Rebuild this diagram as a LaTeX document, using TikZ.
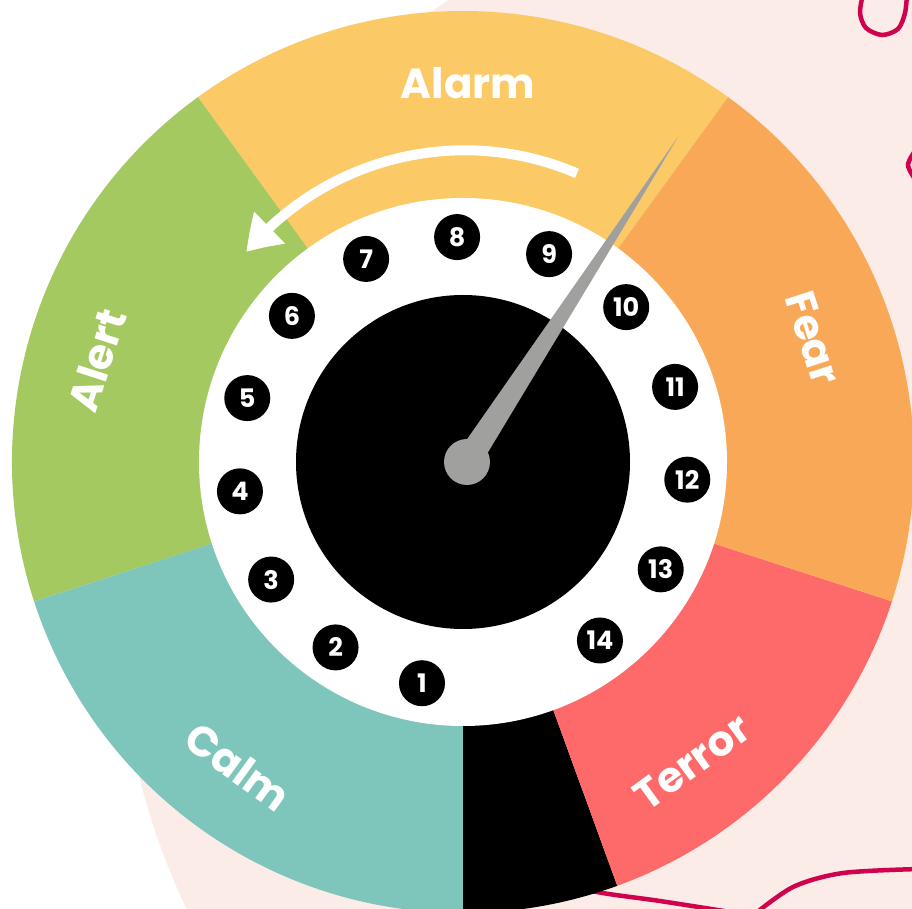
\documentclass[tikz,border=0pt]{standalone}
\usepackage{fontspec}
\setmainfont{Poppins}
\usetikzlibrary{arrows.meta,bending}
\definecolor{cyellow}{HTML}{FBC966}
\definecolor{corange}{HTML}{F9A857}
\definecolor{cgreen}{HTML}{A4C960}
\definecolor{cteal}{HTML}{7EC6BC}
\definecolor{cred}{HTML}{FE6A69}
\definecolor{cpink}{HTML}{FBECE8}
\definecolor{cgray}{HTML}{A0A09F}
\definecolor{ccrimson}{HTML}{D0024E}
\begin{document}
\begin{tikzpicture}[x=1pt,y=1pt,
  numdot/.style={circle, fill=black, minimum size=46pt, inner sep=0pt, text=white,
    font=\bfseries\fontsize{25.5}{25.5}\selectfont},
  lbl/.style={text=white, inner sep=0pt, font=\bfseries\fontsize{42}{42}\selectfont},
  squiggle/.style={draw=ccrimson, line width=4.5pt, line cap=round}]
\useasboundingbox (-463,-447) rectangle (449,462);
\begin{scope}
\clip (-463,-447) rectangle (449,462);
\fill[white] (-463,-447) rectangle (449,462);
\fill[cpink] (370,-141) circle[radius=715];
% squiggles
\draw[squiggle] plot[smooth] coordinates {(400,468) (397,449) (403,434) (419,427) (435,433) (442,449) (444,468)};
\draw[squiggle] plot[smooth] coordinates {(454,314) (445,297) (454,280)};
\draw[squiggle] plot[smooth] coordinates {(60,-410) (129,-429) (197,-439) (280,-452)};
\draw[squiggle] plot[smooth] coordinates {(288,-455) (330,-425) (380,-411) (456,-407)};
% wheel
\fill[cyellow] (0,0) -- (54:451) arc[start angle=54,end angle=126,radius=451] -- cycle;
\fill[cgreen] (0,0) -- (126:451) arc[start angle=126,end angle=198,radius=451] -- cycle;
\fill[cteal] (0,0) -- (198:451) arc[start angle=198,end angle=270,radius=451] -- cycle;
\fill[black] (0,0) -- (270:451) arc[start angle=270,end angle=290,radius=451] -- cycle;
\fill[cred] (0,0) -- (290:451) arc[start angle=290,end angle=342,radius=451] -- cycle;
\fill[corange] (0,0) -- (-18:451) arc[start angle=-18,end angle=54,radius=451] -- cycle;
\fill[white] (0,0) circle[radius=264];
\fill[black] (0,0) circle[radius=167];
\end{scope}
% numbers
\foreach \k in {1,...,14} {
  \pgfmathsetmacro\ang{91.5+(8-\k)*24}
  \node[numdot] (n\k) at (\ang:225) {\k};
}
% labels
\node[lbl] (alarm) at (5,379) {Alarm};
\node[lbl, rotate=-72] (fear) at (350,124) {Fear};
\node[lbl, rotate=72] (alert) at (-366,102) {Alert};
\node[lbl, rotate=-36] (calm) at (-225,-305) {Calm};
\node[lbl, rotate=36] (terror) at (229,-300) {Terror};
% arrow
\draw[white, line width=10pt, -{Triangle[length=34pt,width=42pt,bend]}]
  ([shift={(1.7,26.7)}]66.8:285) arc[start angle=66.8, end angle=140, radius=285];
% needle
\fill[cgray] (14.8,-7.2) -- (215,325) -- (-6.8,7.2) -- cycle;
\fill[cgray] (4,0) circle[radius=23];
\end{tikzpicture}
\end{document}
